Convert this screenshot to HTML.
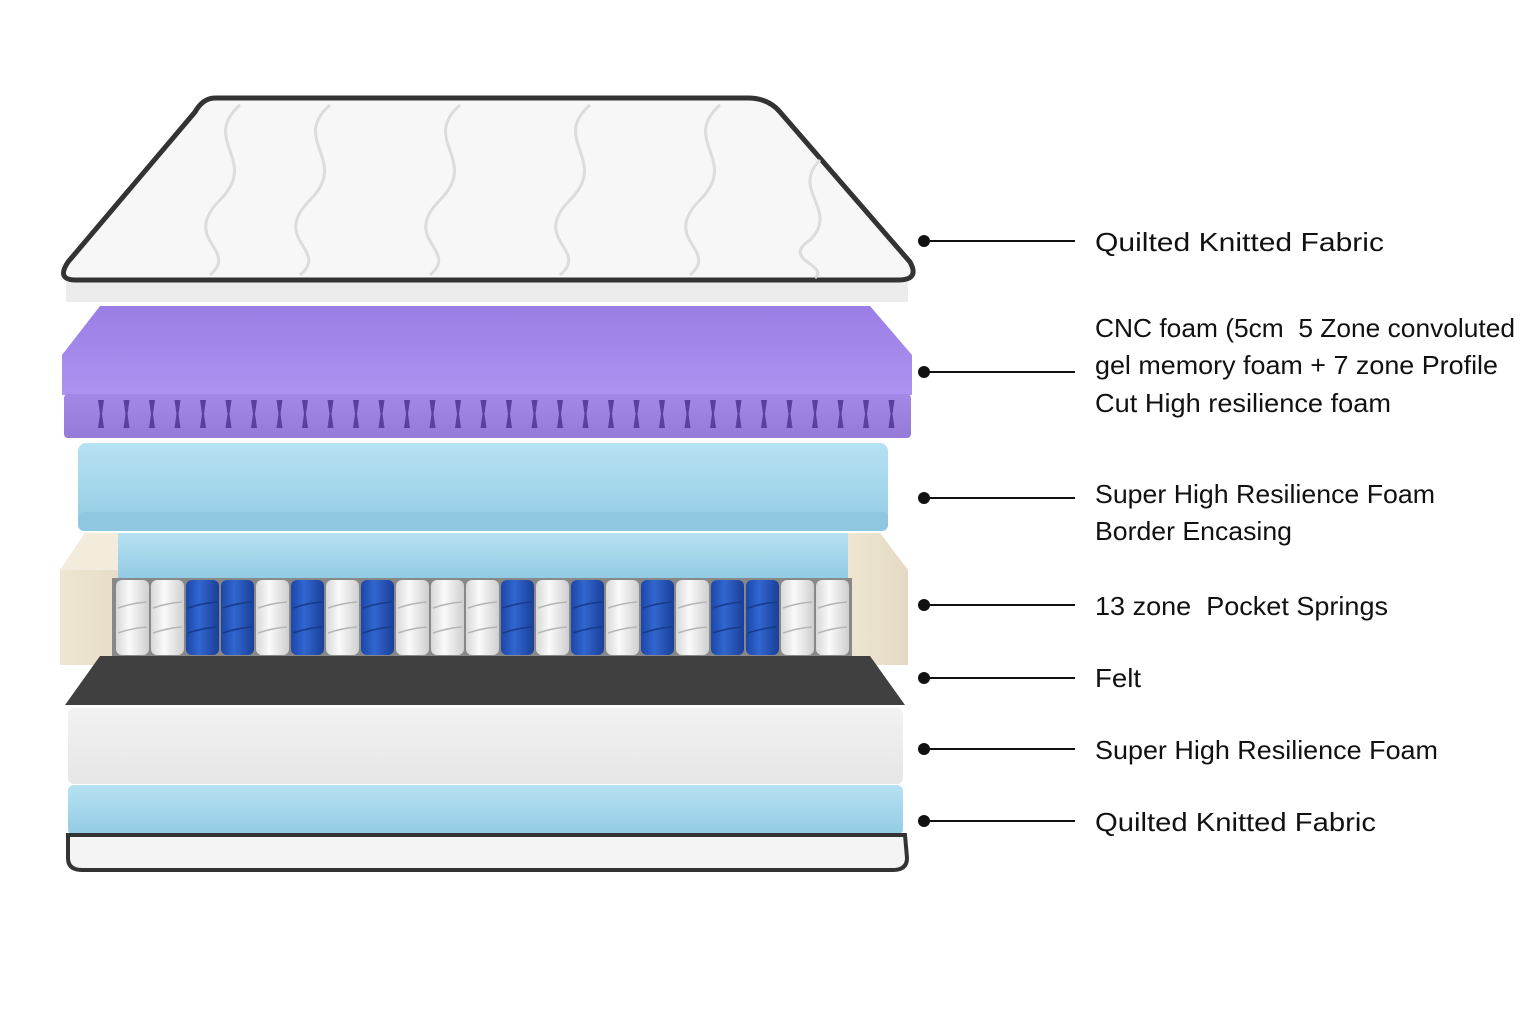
<!DOCTYPE html>
<html><head><meta charset="utf-8"><style>
html,body{margin:0;padding:0;background:#fff;}
svg{display:block}
text{font-family:"Liberation Sans",sans-serif;font-size:26px;fill:#111;white-space:pre;}
</style></head><body>
<svg width="1536" height="1024" viewBox="0 0 1536 1024" xmlns="http://www.w3.org/2000/svg" xml:space="preserve">
<defs>
<linearGradient id="pur" x1="0" y1="0" x2="0" y2="1"><stop offset="0" stop-color="#9a7ee6"/><stop offset="1" stop-color="#ad93f0"/></linearGradient>
<linearGradient id="purs" x1="0" y1="0" x2="0" y2="1"><stop offset="0" stop-color="#a389e6"/><stop offset="1" stop-color="#957ad8"/></linearGradient>
<linearGradient id="blu" x1="0" y1="0" x2="0" y2="1"><stop offset="0" stop-color="#b6e2f2"/><stop offset="1" stop-color="#92cbe4"/></linearGradient>
<linearGradient id="cream" x1="0" y1="0" x2="1" y2="0"><stop offset="0" stop-color="#efe6d2"/><stop offset="1" stop-color="#e4dac4"/></linearGradient>
<linearGradient id="wsp" x1="0" y1="0" x2="1" y2="0"><stop offset="0" stop-color="#d8d8d8"/><stop offset=".4" stop-color="#fafafa"/><stop offset="1" stop-color="#cfcfcf"/></linearGradient>
<linearGradient id="bsp" x1="0" y1="0" x2="1" y2="0"><stop offset="0" stop-color="#1c47a8"/><stop offset=".4" stop-color="#3166d0"/><stop offset="1" stop-color="#1a3f98"/></linearGradient>
<linearGradient id="wf" x1="0" y1="0" x2="0" y2="1"><stop offset="0" stop-color="#f2f2f2"/><stop offset="1" stop-color="#e6e6e6"/></linearGradient>
</defs>

<!-- top mattress -->
<path d="M66,302 L908,302 L908,282 L66,282 Z" fill="#ececec"/>
<path d="M215,98 L748,98 Q768,98 780,112 L910,262 Q920,280 898,280 L76,280 Q56,280 68,262 L195,112 Q203,98 215,98 Z" fill="#f7f7f7" stroke="#333" stroke-width="5"/>
<g fill="none" stroke="#dcdcdc" stroke-width="3">
<path d="M240,105 C200,140 260,160 220,200 C180,240 240,250 210,275"/>
<path d="M330,105 C290,140 350,160 310,200 C270,240 330,250 300,275"/>
<path d="M460,105 C420,140 480,160 440,200 C400,240 460,250 430,275"/>
<path d="M590,105 C550,140 610,160 570,200 C530,240 590,250 560,275"/>
<path d="M720,105 C680,140 740,160 700,200 C660,240 720,250 690,275"/>
<path d="M820,160 C790,190 840,210 810,240 C780,260 830,265 815,278"/>
</g>

<!-- purple layer -->
<path d="M100,306 L870,306 L912,355 L912,395 L62,395 L62,355 Z" fill="url(#pur)"/>
<rect x="64" y="394" width="847" height="44" rx="4" fill="url(#purs)"/>
<g fill="#5b3f9c" id="slots"></g>

<!-- blue layer -->
<rect x="78" y="443" width="810" height="88" rx="8" fill="url(#blu)"/>
<rect x="78" y="512" width="810" height="19" rx="6" fill="#8fc7e0"/>

<!-- border encasing -->
<path d="M60,570 L85,533 L138,533 L138,665 L60,665 Z" fill="url(#cream)"/>
<path d="M848,533 L880,533 L908,570 L908,665 L848,665 Z" fill="url(#cream)"/>
<path d="M85,533 L138,533 L118,570 L60,570 Z" fill="#f3ecdc"/>
<rect x="118" y="533" width="730" height="45" fill="url(#blu)"/>
<rect x="112" y="578" width="740" height="80" fill="#888"/>
<g id="springs"></g>

<!-- felt -->
<path d="M100,656 L870,656 L905,705 L65,705 Z" fill="#404040"/>
<!-- white foam -->
<rect x="68" y="708" width="835" height="76" rx="6" fill="url(#wf)"/>
<!-- blue foam -->
<rect x="68" y="785" width="835" height="50" rx="6" fill="url(#blu)"/>
<!-- bottom fabric -->
<path d="M68,835 L905,835 L907,858 Q907,870 893,870 L82,870 Q68,870 68,858 Z" fill="#f4f4f4" stroke="#333" stroke-width="4"/>

<!-- labels -->
<g stroke="#111" stroke-width="2">
<line x1="924" y1="241" x2="1075" y2="241"/>
<line x1="924" y1="372" x2="1075" y2="372"/>
<line x1="924" y1="498" x2="1075" y2="498"/>
<line x1="924" y1="605" x2="1075" y2="605"/>
<line x1="924" y1="678" x2="1075" y2="678"/>
<line x1="924" y1="749" x2="1075" y2="749"/>
<line x1="924" y1="821" x2="1075" y2="821"/>
</g>
<g fill="#111">
<circle cx="924" cy="241" r="6"/><circle cx="924" cy="372" r="6"/><circle cx="924" cy="498" r="6"/>
<circle cx="924" cy="605" r="6"/><circle cx="924" cy="678" r="6"/><circle cx="924" cy="749" r="6"/><circle cx="924" cy="821" r="6"/>
</g>
<text x="1095" y="251" textLength="289" lengthAdjust="spacingAndGlyphs">Quilted Knitted Fabric</text>
<text x="1095" y="337" textLength="420" lengthAdjust="spacingAndGlyphs">CNC foam (5cm  5 Zone convoluted</text>
<text x="1095" y="374" textLength="403" lengthAdjust="spacingAndGlyphs">gel memory foam + 7 zone Profile</text>
<text x="1095" y="412" textLength="296" lengthAdjust="spacingAndGlyphs">Cut High resilience foam</text>
<text x="1095" y="503" textLength="340" lengthAdjust="spacingAndGlyphs">Super High Resilience Foam</text>
<text x="1095" y="540" textLength="197" lengthAdjust="spacingAndGlyphs">Border Encasing</text>
<text x="1095" y="615" textLength="293" lengthAdjust="spacingAndGlyphs">13 zone  Pocket Springs</text>
<text x="1095" y="687" textLength="46" lengthAdjust="spacingAndGlyphs">Felt</text>
<text x="1095" y="759" textLength="343" lengthAdjust="spacingAndGlyphs">Super High Resilience Foam</text>
<text x="1095" y="831" textLength="281" lengthAdjust="spacingAndGlyphs">Quilted Knitted Fabric</text>
</svg>
<script>
(function(){
var ns="http://www.w3.org/2000/svg";
var sl=document.getElementById("slots");
for(var i=0;i<32;i++){var x=98+i*25.5;var p=document.createElementNS(ns,"path");
p.setAttribute("d","M"+x+",400 h6 l-2,14 l2,14 h-6 l2,-14 Z");sl.appendChild(p);}
var pat="WWBBWBWBWWWBWBWBWBBWW";
var g=document.getElementById("springs");var w=35;
for(var j=0;j<21;j++){var x0=115+j*w;var b=pat[j]=="B";
var r=document.createElementNS(ns,"rect");r.setAttribute("x",x0+1);r.setAttribute("y",580);r.setAttribute("width",w-2);r.setAttribute("height",75);r.setAttribute("rx",6);
r.setAttribute("fill",b?"url(#bsp)":"url(#wsp)");g.appendChild(r);
for(var k=1;k<3;k++){var l=document.createElementNS(ns,"path");var y=580+k*25;
l.setAttribute("d","M"+(x0+3)+","+(y+3)+" Q"+(x0+w/2)+","+(y-2)+" "+(x0+w-3)+","+(y-3));l.setAttribute("stroke",b?"#173a8a":"#b5b5b5");l.setAttribute("fill","none");l.setAttribute("stroke-width","1.5");g.appendChild(l);}
}
})();
</script>
</body></html>
